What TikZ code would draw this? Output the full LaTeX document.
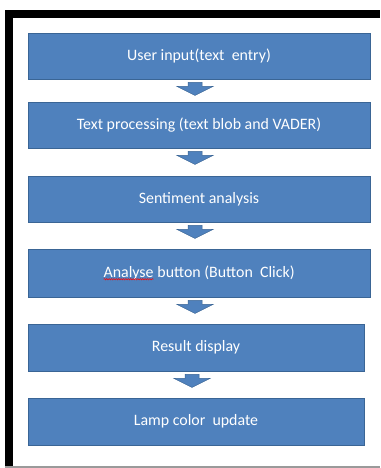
\documentclass[tikz,border=0pt]{standalone}
\usepackage{fontspec}
\setmainfont{Carlito}
\usetikzlibrary{calc,decorations.pathmorphing}
\definecolor{boxblue}{HTML}{4F81BD}
\definecolor{boxedge}{HTML}{3A6595}
\definecolor{rulegray}{HTML}{9A9A9A}
\tikzset{
  stagebox/.style={rectangle, fill=boxblue, draw=boxedge, line width=0.9pt,
    text=white, font=\fontsize{15.9}{18}\selectfont, inner sep=0pt,
    minimum height=46pt},
  flowarrow/.style={fill=boxblue, draw=boxedge, line width=0.5pt, line join=miter},
}
% block arrow hanging below a stage box
\newcommand{\blockarrow}[1]{%
  \draw[flowarrow] ($(#1.south)+(-11,3)$) -- ++(14,0) -- ++(0,4) -- ++(11,0)
    -- ++(-18,9) -- ++(-18,-9) -- ++(11,0) -- cycle;}
% word with a wavy red spell-check underline
\newcommand{\wavyword}[1]{%
  \tikz[baseline=(ww.base), x=1pt, y=1pt]{%
    \node[inner sep=0pt, outer sep=0pt, minimum width=0pt, minimum height=0pt,
          draw=none, fill=none, text=white] (ww) {#1};
    \draw[red, line width=0.5pt, fill=none, decorate,
          decoration={snake, amplitude=0.7pt, segment length=2.4pt}]
      ([yshift=-1.8pt]ww.base west) -- ([yshift=-1.8pt]ww.base east);}}
\begin{document}
\begin{tikzpicture}[x=1pt,y=-1pt]
  \useasboundingbox (0,0) rectangle (380,468);
  \fill[white] (0,0) rectangle (380,468);
  % frame: heavy black left and top edges, thin grey base line
  \fill[black] (5,10) rectangle (13,468);
  \fill[black] (5,10) rectangle (380,18);
  \fill[rulegray] (5,466) rectangle (380,467.6);

  \node[stagebox, minimum width=342pt] (b1) at (199,56) {User input(text\ \ entry)};
  \node[stagebox, minimum width=342pt] (b2) at (199,125) {Text processing (text blob and VADER)};
  \node[stagebox, minimum width=342pt] (b3) at (199,199) {Sentiment analysis};
  \node[stagebox, minimum width=342pt, minimum height=48pt] (b4) at (199,273) {\wavyword{Analyse} button (Button\ \ Click)};
  \node[stagebox, minimum width=336pt, minimum height=47pt] (b5) at (196,347.5) {Result display};
  \node[stagebox, minimum width=336pt, minimum height=47pt] (b6) at (196,421.5) {Lamp color\ \ update};

  \blockarrow{b1}
  \blockarrow{b2}
  \blockarrow{b3}
  \blockarrow{b4}
  \blockarrow{b5}
\end{tikzpicture}
\end{document}
